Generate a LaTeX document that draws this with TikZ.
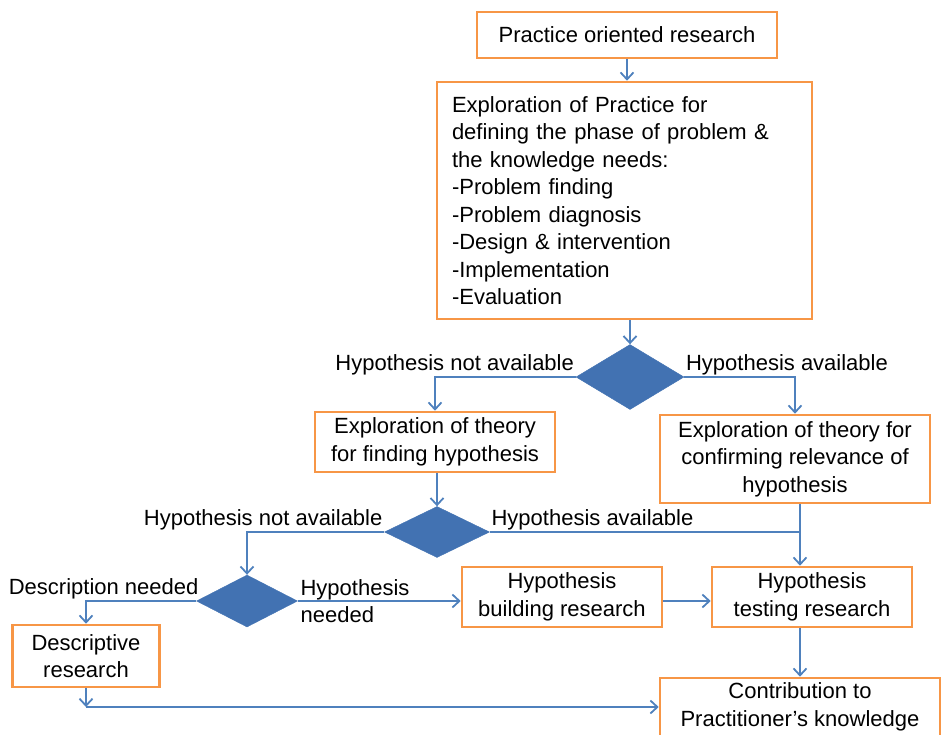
\documentclass[tikz,border=0pt]{standalone}
\usepackage{fontspec}
\setmainfont{Liberation Sans}
\usepackage{tikz}
\usetikzlibrary{shapes.geometric,arrows.meta,positioning}
\definecolor{boxorange}{RGB}{247,150,70}
\definecolor{flowblue}{RGB}{79,129,189}
\definecolor{diablue}{RGB}{66,114,178}

\begin{document}
\begin{tikzpicture}[
    x=1pt, y=-1pt,
    font=\fontsize{22}{27.5}\selectfont,
    block/.style={draw=boxorange, line width=2.6pt, fill=white, align=center, inner sep=4pt},
    decision/.style={diamond, fill=diablue, draw=diablue, inner sep=0pt},
    arrow/.style={-{Straight Barb[length=7pt,width=13pt]}, flowblue, line width=1.8pt},
    conn/.style={flowblue, line width=1.8pt},
    lbl/.style={inner sep=1pt, text=black}
]
    \useasboundingbox (0,0) rectangle (942,734);

    \node[block, minimum width=300pt, minimum height=46pt] (por) at (627,35) {Practice oriented research};
    \node[block, minimum width=375pt, minimum height=237pt, text width=345pt, align=left] (expl) at (624.5,200.5)
        {Exploration of Practice for\\defining the phase of problem \&\\the knowledge needs:\\-Problem finding\\-Problem diagnosis\\-Design \& intervention\\-Implementation\\-Evaluation};
    \node[decision, minimum width=108pt, minimum height=65pt] (dia1) at (630,377) {};
    \node[block, minimum width=240pt, minimum height=60pt] (thfind) at (435,442) {Exploration of theory\\for finding hypothesis};
    \node[block, minimum width=270pt, minimum height=88pt] (thconf) at (795,459) {Exploration of theory for\\confirming relevance of\\hypothesis};
    \node[decision, minimum width=105pt, minimum height=51pt] (dia2) at (437,532) {};
    \node[decision, minimum width=101pt, minimum height=52pt] (dia3) at (247,601) {};
    \node[block, minimum width=147pt, minimum height=62pt] (desc) at (86,656) {Descriptive\\research};
    \node[block, minimum width=200pt, minimum height=60pt] (build) at (562,597) {Hypothesis\\building research};
    \node[block, minimum width=200pt, minimum height=60pt] (test) at (812,597) {Hypothesis\\testing research};
    \node[block, minimum width=280pt, minimum height=58pt] (contrib) at (800,707) {Contribution to\\Practitioner’s knowledge};

    \coordinate (dturn) at (desc.south |- contrib.west);

    \draw[arrow] (por) -- (por |- expl.north);
    \draw[arrow] (dia1 |- expl.south) -- (dia1.north);
    \draw[arrow] (dia1.west) -| node[pos=0, above left, lbl] {Hypothesis not available} (thfind.north);
    \draw[arrow] (dia1.east) -| node[pos=0, above right, lbl] {Hypothesis available} (thconf.north);
    \draw[arrow] (dia2 |- thfind.south) -- (dia2.north);
    \draw[arrow] (dia2.west) -| node[pos=0, above left, lbl] {Hypothesis not available} (dia3.north);
    \draw[conn] (dia2.east) -- node[pos=0, above right, lbl] {Hypothesis available} (dia2.east -| contrib);
    \draw[arrow] (thconf.south -| contrib) -- (test.north -| contrib);
    \draw[arrow] (dia3.west) -| node[pos=0, above left, lbl, xshift=4pt] {Description needed} (desc.north);
    \draw[arrow] (dia3.east) -- node[pos=0, right, lbl, align=left, xshift=1pt] {Hypothesis\\needed} (build.west |- dia3.east);
    \draw[arrow] (build.east |- dia3.east) -- (test.west |- dia3.east);
    \draw[arrow] (test.south -| contrib) -- (contrib.north);
    \draw[arrow] (desc.south) -- (dturn);
    \draw[arrow] (dturn) -- (contrib.west);
\end{tikzpicture}
\end{document}
